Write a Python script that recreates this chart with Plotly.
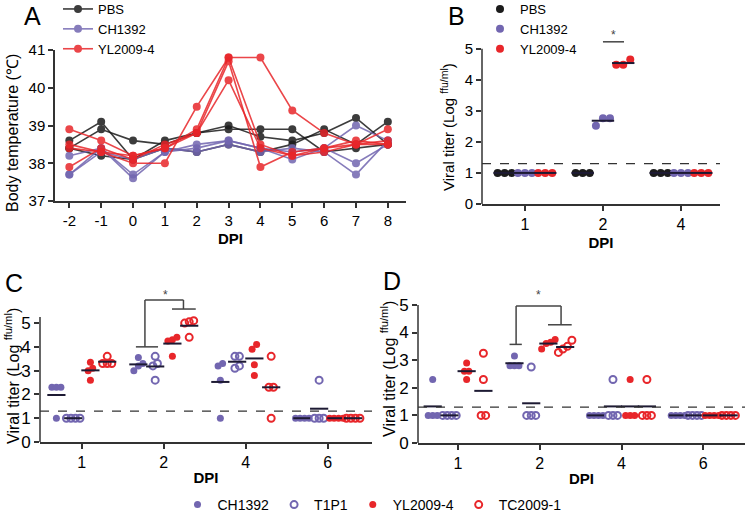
import numpy as np
import plotly.graph_objects as go

W, H = 750, 524
FONT = "Liberation Sans, Arial, sans-serif"

BLACK = "#1b1b1b"
PURPLE = "#7266b0"
RED = "#e8262a"
AXC = "#333333"

# ---- panel A : body temperature, one row per animal ----
days_a = [-2, -1, 0, 1, 2, 3, 4, 5, 6, 7, 8]
pbs_temp = [
    [38.6, 39.1, 38.1, 38.6, 38.8, 38.9, 38.9, 38.9, 38.3, 38.4, 38.5],
    [38.4, 38.9, 38.6, 38.5, 38.8, 39.0, 38.7, 38.6, 38.8, 39.2, 38.5],
    [38.4, 38.2, 38.1, 38.4, 38.3, 38.5, 38.3, 38.5, 38.9, 38.5, 39.1],
]
ch_temp = [
    [38.2, 38.4, 37.7, 38.3, 38.5, 38.6, 38.4, 38.1, 38.4, 39.0, 38.6],
    [37.7, 38.4, 37.6, 38.3, 38.4, 38.6, 38.4, 38.3, 38.4, 38.0, 38.5],
    [37.7, 38.3, 38.1, 38.4, 38.3, 38.5, 38.3, 38.4, 38.3, 37.7, 38.6],
]
yl_temp = [
    [38.9, 38.6, 38.2, 38.4, 38.9, 40.8, 40.8, 39.4, 38.8, 38.5, 38.6],
    [38.5, 38.3, 38.0, 38.0, 39.5, 40.8, 38.5, 38.2, 38.4, 38.5, 38.9],
    [37.9, 38.4, 38.1, 38.5, 38.8, 40.7, 37.9, 38.3, 38.4, 38.6, 38.5],
    [38.4, 38.3, 38.2, 38.4, 38.8, 40.2, 38.4, 38.2, 38.3, 38.5, 38.5],
]

# ---- panel B : viral titer, days 1/2/4 ----
b_days = ["1", "2", "4"]
b_pbs = [[1, 1, 1], [1, 1, 1], [1, 1, 1]]
b_ch = [[1, 1, 1], [2.76, 2.52, 2.76], [1, 1, 1]]
b_yl = [[1, 1, 1], [4.65, 4.48, 4.48], [1, 1, 1]]

# ---- panels C and D : viral titer, days 1/2/4/6 ----
cd_days = ["1", "2", "4", "6"]
c_ch = [[2.3, 2.3, 2.3, 1.0], [3.55, 3.3, 3.0, 3.2], [3.2, 3.3, 2.6, 1.0], [1, 1, 1, 1]]
c_t1 = [[1, 1, 1, 1], [3.6, 3.3, 3.2, 2.6], [3.6, 3.6, 3.2, 3.1], [2.6, 1, 1, 1]]
c_yl = [[3.35, 3.1, 3.0, 2.6], [4.3, 4.4, 4.25, 3.6], [4.1, 3.9, 3.25, 2.8], [1, 1, 1, 1]]
c_tc = [[3.6, 3.3, 3.3, 3.3], [5.05, 5.1, 5.0, 4.4], [3.6, 2.3, 2.3, 1.0], [1, 1, 1, 1]]

d_ch = [[2.3, 1, 1, 1], [3.15, 2.8, 2.8, 2.8], [1, 1, 1, 1], [1, 1, 1, 1]]
d_t1 = [[1, 1, 1, 1], [2.75, 1, 1, 1], [2.3, 1, 1, 1], [1, 1, 1, 1]]
d_yl = [[2.9, 2.6, 2.6, 2.3], [3.75, 3.65, 3.6, 3.4], [2.3, 1, 1, 1], [1, 1, 1, 1]]
d_tc = [[3.25, 2.3, 1, 1], [3.72, 3.5, 3.4, 3.28], [2.3, 1, 1, 1], [1, 1, 1, 1]]

detect_limit = 1.3


def pxx(x):
    return x / W


def pxy(y):
    return 1 - y / H


def spread(vals, step, thresh=0.25):
    """spread overlapping dots sideways (scatter dot plot style)"""
    order = sorted(range(len(vals)), key=lambda i: vals[i])
    groups = []
    for i in order:
        if groups and vals[i] - vals[groups[-1][-1]] < thresh:
            groups[-1].append(i)
        else:
            groups.append([i])
    offs = [0.0] * len(vals)
    for g in groups:
        for k, i in enumerate(g):
            offs[i] = (k - (len(g) - 1) / 2) * step
    return offs


fig = go.Figure()

# panel A
for name, rows, col in [("PBS", pbs_temp, BLACK), ("CH1392", ch_temp, PURPLE), ("YL2009-4", yl_temp, RED)]:
    for k, r in enumerate(rows):
        fig.add_trace(go.Scatter(
            x=days_a, y=r, mode="lines+markers", name=name, legendgroup="a" + name,
            showlegend=(k == 0), legend="legend", opacity=0.85,
            line=dict(color=col, width=1.6), marker=dict(color=col, size=8),
            xaxis="x", yaxis="y"))


def dot_panel(groups, offsets, xa, ya, leg, step, size, mean_size):
    for gi, (name, data, col, sym) in enumerate(groups):
        xs, ys, mx, my = [], [], [], []
        for ci, vals in enumerate(data):
            offs = spread(vals, step)
            for v, o in zip(vals, offs):
                xs.append(ci + offsets[gi] + o)
                ys.append(v)
            mx.append(ci + offsets[gi])
            my.append(float(np.mean(vals)))
        open_ = sym == "circle-open"
        fig.add_trace(go.Scatter(
            x=xs, y=ys, mode="markers", name=name, legend=leg,
            showlegend=leg is not None,
            marker=dict(symbol=sym, size=size, color=col,
                        line=dict(color=col, width=2 if open_ else 0)),
            xaxis=xa, yaxis=ya))
        fig.add_trace(go.Scatter(
            x=mx, y=my, mode="markers", showlegend=False, hoverinfo="skip",
            marker=dict(symbol="line-ew", size=mean_size, line=dict(color="#1d1a33", width=2)),
            xaxis=xa, yaxis=ya))


# panel B
dot_panel([("PBS", b_pbs, BLACK, "circle"), ("CH1392", b_ch, PURPLE, "circle"),
           ("YL2009-4", b_yl, RED, "circle")],
          [-0.26, 0.0, 0.26], "x2", "y2", "legend2", 0.09, 8, 16)

# panels C and D
c_groups = [("CH1392", c_ch, PURPLE, "circle"), ("T1P1", c_t1, PURPLE, "circle-open"),
            ("YL2009-4", c_yl, RED, "circle"), ("TC2009-1", c_tc, RED, "circle-open")]
d_groups = [("CH1392", d_ch, PURPLE, "circle"), ("T1P1", d_t1, PURPLE, "circle-open"),
            ("YL2009-4", d_yl, RED, "circle"), ("TC2009-1", d_tc, RED, "circle-open")]
offs4 = [-0.31, -0.105, 0.105, 0.31]
dot_panel(c_groups, offs4, "x3", "y3", "legend3", 0.055, 7, 13)
dot_panel(d_groups, offs4, "x4", "y4", None, 0.055, 7, 13)

tick_font = dict(family=FONT, size=15, color="black")
ax_common = dict(showgrid=False, zeroline=False, ticks="outside", ticklen=5, tickwidth=1.5,
                 tickcolor=AXC, linecolor=AXC, linewidth=1.5, tickfont=tick_font)
title_font = dict(family=FONT, size=15, color="black", weight="bold")

fig.update_layout(
    width=W, height=H, margin=dict(l=0, r=0, t=0, b=0, autoexpand=False),
    paper_bgcolor="white", plot_bgcolor="rgba(0,0,0,0)",
    font=dict(family=FONT, color="black"),
    xaxis=dict(ax_common, domain=[pxx(55), pxx(406)], range=[-2.45, 8.57], tickvals=days_a,
               ticktext=[str(d) for d in days_a], showline=True, anchor="y",
               title=dict(text="DPI", font=title_font, standoff=6)),
    yaxis=dict(ax_common, domain=[pxy(201), pxy(50)], range=[37, 41], dtick=1,
               showline=True, anchor="x"),
    xaxis2=dict(ax_common, domain=[pxx(482), pxx(720)], range=[-0.55, 2.5],
                tickvals=[0, 1, 2], ticktext=b_days, showline=True, anchor="y2",
                tickfont=dict(family=FONT, size=16, color="black"),
                title=dict(text="DPI", font=title_font, standoff=6)),
    yaxis2=dict(ax_common, domain=[pxy(204), pxy(30)], range=[0, 5.6],
                tickvals=[0, 1, 2, 3, 4, 5], showline=False, anchor="x2"),
    xaxis3=dict(ax_common, domain=[pxx(40), pxx(372)], range=[-0.51, 3.54],
                tickvals=[0, 1, 2, 3], ticktext=cd_days, showline=True, anchor="y3",
                tickfont=dict(family=FONT, size=16, color="black"),
                title=dict(text="DPI", font=title_font, standoff=3)),
    yaxis3=dict(ax_common, domain=[pxy(442), pxy(285)], range=[0, 6.6],
                tickvals=[0, 1, 2, 3, 4, 5], showline=False, anchor="x3",
                tickfont=dict(family=FONT, size=17, color="black")),
    xaxis4=dict(ax_common, domain=[pxx(418), pxx(745)], range=[-0.49, 3.51],
                tickvals=[0, 1, 2, 3], ticktext=cd_days, showline=True, anchor="y4",
                tickfont=dict(family=FONT, size=16, color="black"),
                title=dict(text="DPI", font=title_font, standoff=3)),
    yaxis4=dict(ax_common, domain=[pxy(443), pxy(285)], range=[0, 5.72],
                tickvals=[0, 1, 2, 3, 4, 5], showline=False, anchor="x4",
                tickfont=dict(family=FONT, size=17, color="black")),
    legend=dict(x=pxx(58), y=pxy(-6), xanchor="left", yanchor="top",
                font=dict(family=FONT, size=13), bgcolor="rgba(0,0,0,0)", tracegroupgap=0),
    legend2=dict(x=pxx(480), y=pxy(-6), xanchor="left", yanchor="top",
                 font=dict(family=FONT, size=13), bgcolor="rgba(0,0,0,0)"),
    legend3=dict(x=pxx(372), y=pxy(489), xanchor="center", yanchor="top", orientation="h",
                 font=dict(family=FONT, size=14), bgcolor="rgba(0,0,0,0)"),
)

shapes = []
# y axis lines that stop at the top tick
for xa, ya, top in [("x2", "y2", 5), ("x3", "y3", 5.25), ("x4", "y4", 5)]:
    shapes.append(dict(type="line", xref=xa + " domain", yref=ya, x0=0, x1=0, y0=0, y1=top,
                       line=dict(color=AXC, width=1.5)))
# detection limit
for xa, ya in [("x2", "y2"), ("x3", "y3"), ("x4", "y4")]:
    shapes.append(dict(type="line", xref=xa + " domain", yref=ya, x0=0, x1=1,
                       y0=detect_limit, y1=detect_limit,
                       line=dict(color="#333", width=1.3, dash="dash")))


def seg(xa, ya, x0, x1, y0, y1):
    shapes.append(dict(type="line", xref=xa, yref=ya, x0=x0, x1=x1, y0=y0, y1=y1,
                       line=dict(color="#444", width=1.5)))


# significance bars
seg("x2", "y2", 1.0, 1.27, 5.22, 5.22)
# C
seg("x3", "y3", 1 - 0.34, 1 - 0.07, 4.0, 4.0)
seg("x3", "y3", 1 - 0.23, 1 - 0.23, 4.0, 5.97)
seg("x3", "y3", 1 - 0.23, 1 + 0.24, 5.97, 5.97)
seg("x3", "y3", 1 + 0.24, 1 + 0.24, 5.97, 5.59)
seg("x3", "y3", 1 + 0.10, 1 + 0.39, 5.59, 5.59)
# D
seg("x4", "y4", 1 - 0.37, 1 - 0.22, 3.57, 3.57)
seg("x4", "y4", 1 - 0.29, 1 - 0.29, 3.57, 4.96)
seg("x4", "y4", 1 - 0.29, 1 + 0.26, 4.96, 4.96)
seg("x4", "y4", 1 + 0.26, 1 + 0.26, 4.96, 4.28)
seg("x4", "y4", 1 + 0.10, 1 + 0.39, 4.28, 4.28)
fig.update_layout(shapes=shapes)

annots = []
star = dict(font=dict(family=FONT, size=12, color="#444"), showarrow=False, text="*")
annots.append(dict(star, x=3, y=41.35, xref="x", yref="y"))
annots.append(dict(star, x=1.13, y=5.45, xref="x2", yref="y2"))
annots.append(dict(star, x=1.02, y=6.2, xref="x3", yref="y3"))
annots.append(dict(star, x=0.98, y=5.36, xref="x4", yref="y4"))

for lab, x, y in [("A", 32, 16), ("B", 457, 16), ("C", 14, 283), ("D", 392, 281)]:
    annots.append(dict(text=lab, x=pxx(x), y=pxy(y), xref="paper", yref="paper",
                       xanchor="center", yanchor="middle",
                       showarrow=False, font=dict(family=FONT, size=25, color="black")))

ytitle = "Viral titer (Log <sup>ffu/ml</sup>)"
for txt, x, y, size in [("Body temperature (℃)", 13, 133, 16), (ytitle, 447, 127, 15),
                        (ytitle, 12, 376, 16), (ytitle, 388, 369, 16)]:
    annots.append(dict(text=txt, x=pxx(x), y=pxy(y), xref="paper", yref="paper",
                       xanchor="center", yanchor="middle",
                       textangle=-90, showarrow=False,
                       font=dict(family=FONT, size=size, color="black")))
fig.update_layout(annotations=annots)

fig.write_html("out.html", config={"displayModeBar": False},
               post_script="document.body.style.margin='0';")
